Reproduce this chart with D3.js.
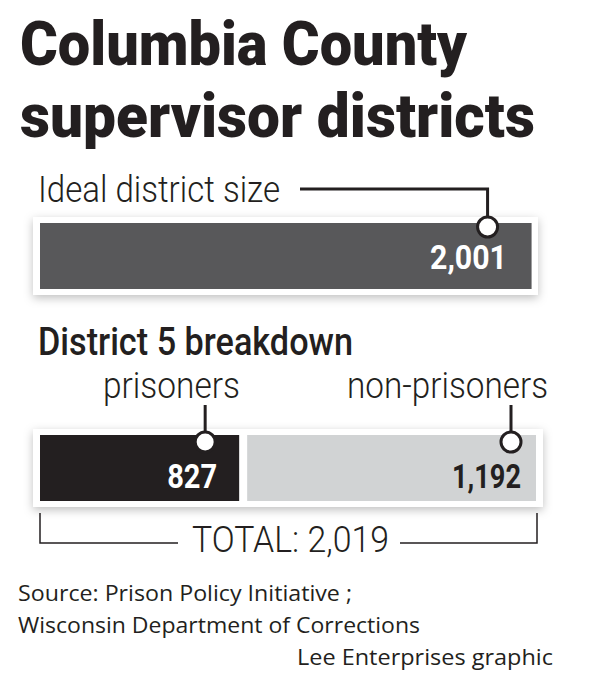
<!DOCTYPE html>
<html>
<head>
<meta charset="utf-8">
<script src="https://cdn.jsdelivr.net/npm/d3@7"></script>
<style>
  html, body { margin: 0; padding: 0; background: #fff; }
  svg { display: block; }
</style>
</head>
<body>
<script>
// ---- data ----
const titleLines = ["Columbia County", "supervisor districts"];
const idealLabel = "Ideal district size";
const idealValue = 2001;
const breakdownTitle = "District 5 breakdown";
const categories = ["prisoners", "non-prisoners"];
const values = [827, 1192];
const total = 2019;
const totalLabel = "TOTAL: 2,019";
const sourceLines = ["Source: Prison Policy Initiative ;", "Wisconsin Department of Corrections"];
const credit = "Lee Enterprises graphic";

const W = 604, H = 676;
const ink = "#231f20";
const fmt = d3.format(",");

const svg = d3.select("body").append("svg").attr("width", W).attr("height", H);
const defs = svg.append("defs");
const f = defs.append("filter").attr("id", "shadow")
  .attr("x", "-10%").attr("y", "-40%").attr("width", "120%").attr("height", "180%");
f.append("feDropShadow").attr("dx", 0).attr("dy", 3).attr("stdDeviation", 5)
  .attr("flood-color", "#000").attr("flood-opacity", 0.25);

const x = d3.scaleLinear().domain([0, total]).range([40, 536]);

// ---- title ----
const titleY = [65, 137], titleLen = [447, 515];
svg.selectAll("text.title").data(titleLines).join("text")
  .attr("class", "title")
  .attr("x", 20).attr("y", (d, i) => titleY[i])
  .attr("textLength", (d, i) => titleLen[i]).attr("lengthAdjust", "spacingAndGlyphs")
  .attr("font-family", "Roboto, Inter, sans-serif").attr("font-weight", 900)
  .attr("font-size", 61).attr("fill", ink).text(d => d);

// ---- ideal district size ----
svg.append("text").attr("x", 38).attr("y", 202)
  .attr("textLength", 242).attr("lengthAdjust", "spacingAndGlyphs")
  .attr("font-family", "Roboto, sans-serif").attr("font-weight", 300)
  .attr("font-size", 37).attr("fill", ink).text(idealLabel);

svg.append("rect").attr("x", 33).attr("y", 217).attr("width", 505).attr("height", 78)
  .attr("fill", "#fff").attr("filter", "url(#shadow)");
svg.append("rect").attr("x", x(0)).attr("y", 223)
  .attr("width", x(idealValue) - x(0)).attr("height", 66).attr("fill", "#58585a");

const topCx = x(idealValue) - 44;
svg.append("path")
  .attr("d", `M300,189 H${topCx} V218`)
  .attr("fill", "none").attr("stroke", ink).attr("stroke-width", 3);
svg.append("circle").attr("cx", topCx).attr("cy", 227).attr("r", 10)
  .attr("fill", "#fff").attr("stroke", ink).attr("stroke-width", 3);
svg.append("text").attr("x", 507).attr("y", 269).attr("text-anchor", "end")
  .attr("textLength", 77).attr("lengthAdjust", "spacingAndGlyphs")
  .attr("font-family", "Roboto, sans-serif").attr("font-weight", 700)
  .attr("font-size", 33).attr("fill", "#fff").text(fmt(idealValue));

// ---- district 5 breakdown ----
svg.append("text").attr("x", 38).attr("y", 355)
  .attr("textLength", 315).attr("lengthAdjust", "spacingAndGlyphs")
  .attr("font-family", "Roboto, sans-serif").attr("font-weight", 500)
  .attr("font-size", 38).attr("fill", ink).text(breakdownTitle);

svg.append("rect").attr("x", 33).attr("y", 429).attr("width", 510).attr("height", 78)
  .attr("fill", "#fff").attr("filter", "url(#shadow)");

const segs = values.map((v, i) => {
  const start = d3.sum(values.slice(0, i));
  return { cat: categories[i], v, x0: x(start) + (i > 0 ? 4 : 0), x1: x(start + v) - (i < values.length - 1 ? 4 : 0) };
});
const segFill = ["#231f20", "#d1d3d4"];
const segText = ["#fff", ink];
const labelX = [103, 347], labelLen = [137, 201];
const circOff = [34, 25];
const valLen = [50, 69];

svg.selectAll("rect.seg").data(segs).join("rect").attr("class", "seg")
  .attr("x", d => d.x0).attr("y", 435).attr("width", d => d.x1 - d.x0).attr("height", 66)
  .attr("fill", (d, i) => segFill[i]);

svg.selectAll("text.cat").data(segs).join("text").attr("class", "cat")
  .attr("x", (d, i) => labelX[i]).attr("y", 398)
  .attr("textLength", (d, i) => labelLen[i]).attr("lengthAdjust", "spacingAndGlyphs")
  .attr("font-family", "Roboto, sans-serif").attr("font-weight", 300)
  .attr("font-size", 37).attr("fill", ink).text(d => d.cat);

svg.selectAll("line.lead").data(segs).join("line").attr("class", "lead")
  .attr("x1", (d, i) => d.x1 - circOff[i]).attr("x2", (d, i) => d.x1 - circOff[i])
  .attr("y1", 405).attr("y2", 432).attr("stroke", ink).attr("stroke-width", 3);

svg.selectAll("circle.mk").data(segs).join("circle").attr("class", "mk")
  .attr("cx", (d, i) => d.x1 - circOff[i]).attr("cy", 442).attr("r", 10)
  .attr("fill", "#fff").attr("stroke", ink).attr("stroke-width", 3);

svg.selectAll("text.val").data(segs).join("text").attr("class", "val")
  .attr("x", (d, i) => d.x1 - (i === 0 ? 22 : 15)).attr("y", 488).attr("text-anchor", "end")
  .attr("textLength", (d, i) => valLen[i]).attr("lengthAdjust", "spacingAndGlyphs")
  .attr("font-family", "Roboto, sans-serif").attr("font-weight", 700)
  .attr("font-size", 33).attr("fill", (d, i) => segText[i]).text(d => fmt(d.v));

// ---- total bracket ----
svg.append("path").attr("d", `M${x(0)},513 V543 H178`)
  .attr("fill", "none").attr("stroke", ink).attr("stroke-width", 1.5);
svg.append("path").attr("d", `M400,543 H${x(total) + 1} V513`)
  .attr("fill", "none").attr("stroke", ink).attr("stroke-width", 1.5);
svg.append("text").attr("x", 192).attr("y", 552)
  .attr("textLength", 197).attr("lengthAdjust", "spacingAndGlyphs")
  .attr("font-family", "Roboto, sans-serif").attr("font-weight", 300)
  .attr("font-size", 37).attr("fill", ink).text(totalLabel);

// ---- source ----
const srcY = [601, 633], srcLen = [334, 402];
svg.selectAll("text.src").data(sourceLines).join("text").attr("class", "src")
  .attr("x", 18).attr("y", (d, i) => srcY[i])
  .attr("textLength", (d, i) => srcLen[i]).attr("lengthAdjust", "spacingAndGlyphs")
  .attr("font-family", "'Open Sans', sans-serif").attr("font-weight", 400)
  .attr("font-size", 22).attr("fill", ink).text(d => d);
svg.append("text").attr("x", 297).attr("y", 665)
  .attr("textLength", 256).attr("lengthAdjust", "spacingAndGlyphs")
  .attr("font-family", "'Open Sans', sans-serif").attr("font-weight", 400)
  .attr("font-size", 22).attr("fill", ink).text(credit);
</script>
</body>
</html>
